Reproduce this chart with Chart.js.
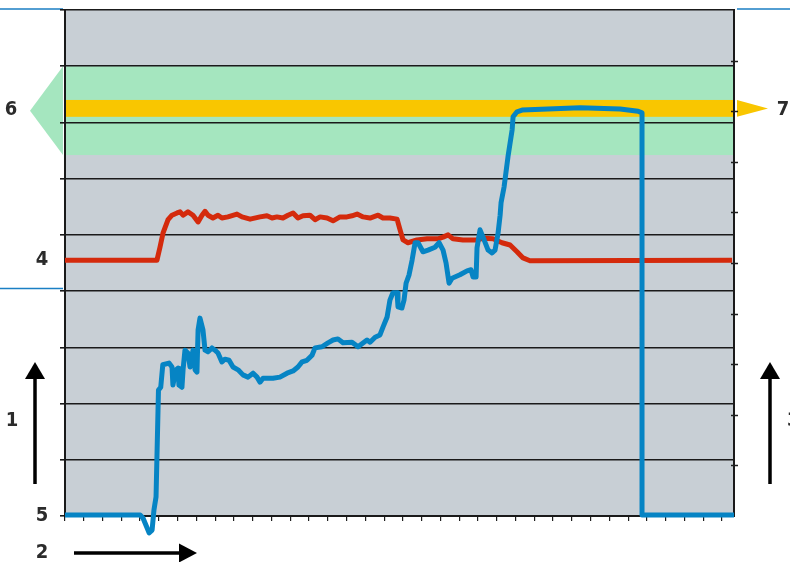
<!DOCTYPE html>
<html>
<head>
<meta charset="utf-8">
<script src="https://cdn.jsdelivr.net/npm/chart.js@4.4.0/dist/chart.umd.min.js"></script>
<style>
  html, body { margin: 0; padding: 0; background: #fff; }
  #wrap { width: 790px; height: 562px; }
</style>
</head>
<body>
<div id="wrap"><canvas id="chart" width="790" height="562"></canvas></div>
<script>
// x = time (one unit per bottom tick), y = left scale (one grid step = 10)
const xMax = 35.64;
const leftMax = 90;
const rightMax = 10;

const blueTime = [0, 4.0, 4.16, 4.37, 4.48, 4.64, 4.74, 4.85, 4.98, 5.10, 5.21, 5.54, 5.70, 5.75, 5.91, 6.02, 6.07, 6.23, 6.29, 6.39,
  6.55, 6.66, 6.82, 6.93, 7.03, 7.09, 7.19, 7.35, 7.46, 7.62, 7.83, 7.99, 8.15, 8.36, 8.52, 8.74, 8.95, 9.22, 9.48, 9.75,
  10.02, 10.23, 10.39, 10.55, 11.08, 11.45, 11.83, 12.15, 12.41, 12.63, 12.89, 13.16, 13.32, 13.69, 14.01, 14.28, 14.54, 14.81, 15.29, 15.61,
  16.09, 16.25, 16.52, 16.78, 16.94, 17.16, 17.31, 17.47, 17.69, 17.74, 17.95, 18.06, 18.17, 18.33, 18.49, 18.65, 18.81, 19.07, 19.34, 19.71,
  19.93, 20.14, 20.30, 20.46, 20.62, 21.04, 21.42, 21.63, 21.74, 21.90, 21.95, 22.11, 22.27, 22.54, 22.75, 22.91, 23.07, 23.18, 23.23, 23.39,
  23.60, 23.82, 23.87, 24.08, 24.35, 27.44, 29.57, 30.53, 30.74, 30.74, 35.64];
const blueLevel = [0.2, 0.2, -0.4, -2.1, -3.0, -2.5, 1.1, 3.4, 22.4, 22.9, 26.9, 27.2, 26.5, 23.3, 26.0, 26.3, 23.3, 22.9, 26.0, 29.5,
  29.0, 26.5, 29.5, 26.0, 25.6, 33.1, 35.2, 33.1, 29.5, 29.2, 29.9, 29.5, 29.0, 27.4, 27.9, 27.7, 26.5, 26.0, 25.1, 24.7,
  25.4, 24.7, 23.8, 24.5, 24.5, 24.7, 25.4, 25.8, 26.5, 27.4, 27.7, 28.6, 29.9, 30.1, 30.8, 31.3, 31.5, 30.8, 30.9, 30.1,
  31.3, 30.9, 31.8, 32.2, 33.6, 35.4, 38.4, 39.7, 39.7, 37.2, 37.0, 38.4, 41.4, 42.9, 45.5, 48.6, 48.6, 47.0, 47.3, 47.8,
  48.6, 47.3, 45.0, 41.4, 42.3, 42.9, 43.6, 43.8, 42.5, 42.5, 47.7, 50.9, 49.6, 47.3, 46.8, 47.3, 50.3, 53.5, 55.7, 58.5,
  63.9, 68.7, 71.0, 71.9, 72.2, 72.6, 72.4, 72.0, 71.7, 0.2, 0.2];

const redTime = [0, 4.90, 5.06, 5.22, 5.49, 5.70, 5.97, 6.13, 6.29, 6.55, 6.82, 7.09, 7.30, 7.46, 7.62, 7.88, 8.15, 8.36, 8.68, 9.16,
  9.43, 9.86, 10.39, 10.76, 11.03, 11.29, 11.61, 11.88, 12.15, 12.41, 12.68, 13.05, 13.32, 13.59, 13.96, 14.28, 14.65, 15.02, 15.29, 15.56,
  15.88, 16.25, 16.68, 16.94, 17.31, 17.69, 17.85, 18.01, 18.27, 18.75, 19.29, 19.87, 20.14, 20.41, 20.67, 21.20, 21.95, 22.27, 22.80, 23.28,
  23.71, 24.08, 24.40, 24.77, 35.54];
const redLevel = [45.5, 45.5, 47.8, 50.3, 52.7, 53.5, 53.9, 54.1, 53.5, 54.1, 53.5, 52.3, 53.5, 54.2, 53.5, 53.0, 53.5, 53.0, 53.2, 53.7,
  53.2, 52.8, 53.2, 53.4, 53.0, 53.2, 53.0, 53.5, 53.9, 53.0, 53.4, 53.5, 52.7, 53.2, 53.0, 52.5, 53.2, 53.2, 53.4, 53.7,
  53.2, 53.0, 53.5, 53.0, 53.0, 52.8, 50.9, 49.1, 48.6, 49.1, 49.3, 49.3, 49.6, 50.0, 49.3, 49.1, 49.1, 49.4, 49.3, 48.6,
  48.2, 47.0, 45.9, 45.4, 45.5];

const greenBand = [64.2, 80];   // tolerance window
const yellowBand = [71, 74];    // target level

const toPoints = (xs, ys) => xs.map((x, i) => ({ x: x, y: ys[i] }));

const LABEL_FONT = "bold 20px 'Liberation Sans Narrow', 'DejaVu Sans Condensed', sans-serif";

function drawArrow(ctx, x1, y1, x2, y2, headLen, headHalf) {
  const ang = Math.atan2(y2 - y1, x2 - x1);
  const bx = x2 - Math.cos(ang) * headLen, by = y2 - Math.sin(ang) * headLen;
  ctx.lineWidth = 3.5;
  ctx.beginPath();
  ctx.moveTo(x1, y1);
  ctx.lineTo(bx, by);
  ctx.stroke();
  ctx.beginPath();
  ctx.moveTo(x2, y2);
  ctx.lineTo(bx - Math.sin(ang) * headHalf, by + Math.cos(ang) * headHalf);
  ctx.lineTo(bx + Math.sin(ang) * headHalf, by - Math.cos(ang) * headHalf);
  ctx.closePath();
  ctx.fill();
}

const decor = {
  id: 'decor',
  beforeDraw(chart) {
    const { ctx, chartArea: a, scales: { y } } = chart;
    ctx.save();
    // page rules
    ctx.strokeStyle = '#1b7fc4';
    ctx.lineWidth = 1.5;
    ctx.beginPath();
    ctx.moveTo(0, a.top - 1); ctx.lineTo(a.left - 2, a.top - 1);
    ctx.moveTo(a.right + 3, a.top - 1); ctx.lineTo(chart.width, a.top - 1);
    ctx.moveTo(0, y.getPixelForValue(40) - 2.5); ctx.lineTo(a.left - 2, y.getPixelForValue(40) - 2.5);
    ctx.stroke();

    // plot background
    ctx.fillStyle = '#c8cfd5';
    ctx.fillRect(a.left, a.top, a.right - a.left, a.bottom - a.top);

    // green window + left pointer
    const gTop = y.getPixelForValue(greenBand[1]), gBot = y.getPixelForValue(greenBand[0]);
    ctx.fillStyle = '#a5e6bf';
    ctx.fillRect(a.left, gTop, a.right - a.left, gBot - gTop);
    ctx.beginPath();
    ctx.moveTo(a.left - 2, gTop);
    ctx.lineTo(a.left - 35, (gTop + gBot) / 2);
    ctx.lineTo(a.left - 2, gBot);
    ctx.closePath();
    ctx.fill();

    // yellow target + right pointer
    const yTop = y.getPixelForValue(yellowBand[1]), yBot = y.getPixelForValue(yellowBand[0]);
    ctx.fillStyle = '#f9c600';
    ctx.fillRect(a.left, yTop, a.right - a.left, yBot - yTop);
    ctx.beginPath();
    ctx.moveTo(a.right + 3, yTop);
    ctx.lineTo(a.right + 34, (yTop + yBot) / 2);
    ctx.lineTo(a.right + 3, yBot);
    ctx.closePath();
    ctx.fill();
    ctx.restore();
  },
  afterDraw(chart) {
    const { ctx, chartArea: a, scales: { y, y2 } } = chart;
    ctx.save();
    // right axis ticks crossing the border
    ctx.strokeStyle = '#1e1e1e';
    ctx.lineWidth = 1.5;
    y2.ticks.forEach(t => {
      if (t.value <= 0 || t.value >= rightMax) return;
      const py = Math.round(y2.getPixelForValue(t.value)) + 0.5;
      ctx.beginPath();
      ctx.moveTo(a.right - 3, py);
      ctx.lineTo(a.right + 4, py);
      ctx.stroke();
    });

    // arrows
    ctx.strokeStyle = '#000';
    ctx.fillStyle = '#000';
    drawArrow(ctx, a.left - 30, a.bottom - 32, a.left - 30, a.bottom - 154, 17, 10);
    drawArrow(ctx, a.right + 36, a.bottom - 32, a.right + 36, a.bottom - 154, 17, 10);
    drawArrow(ctx, a.left + 9, a.bottom + 37, a.left + 132, a.bottom + 37, 18, 9.5);

    // labels
    const midTarget = y.getPixelForValue((yellowBand[0] + yellowBand[1]) / 2);
    ctx.font = LABEL_FONT;
    ctx.fillStyle = '#2b2b2b';
    ctx.textAlign = 'center';
    ctx.textBaseline = 'middle';
    ctx.fillText('6', a.left - 54, midTarget + 1);
    ctx.fillText('4', a.left - 23, y.getPixelForValue(redLevel[0]));
    ctx.fillText('5', a.left - 23, y.getPixelForValue(0));
    ctx.fillText('1', a.left - 53, a.bottom - 95);
    ctx.fillText('2', a.left - 23, a.bottom + 37);
    ctx.fillText('7', a.right + 49, midTarget + 1);
    ctx.textAlign = 'left';
    ctx.fillText('3', a.right + 53, a.bottom - 95);
    ctx.restore();
  }
};

new Chart(document.getElementById('chart'), {
  type: 'line',
  data: {
    datasets: [
      {
        label: 'blue',
        data: toPoints(blueTime, blueLevel),
        borderColor: '#0684c4',
        borderWidth: 5,
        pointRadius: 0,
        tension: 0,
        borderJoinStyle: 'round',
        borderCapStyle: 'butt',
        clip: false,
        yAxisID: 'y'
      },
      {
        label: 'red',
        data: toPoints(redTime, redLevel),
        borderColor: '#d42a0c',
        borderWidth: 5,
        pointRadius: 0,
        tension: 0,
        borderJoinStyle: 'round',
        clip: false,
        yAxisID: 'y'
      }
    ]
  },
  options: {
    responsive: false,
    animation: false,
    devicePixelRatio: 1,
    layout: { padding: { left: 60, right: 56, top: 10, bottom: 41 } },
    plugins: { legend: { display: false }, tooltip: { enabled: false } },
    scales: {
      x: {
        type: 'linear',
        min: 0,
        max: xMax,
        ticks: { display: false, stepSize: 1, includeBounds: false },
        grid: { drawOnChartArea: false, drawTicks: true, tickLength: 5, color: '#1e1e1e', lineWidth: 1.2 },
        border: { color: '#1a1a1a', width: 2 }
      },
      y: {
        min: 0,
        max: leftMax,
        ticks: { display: false, stepSize: 10 },
        grid: { color: '#1a1a1a', lineWidth: 1.6, tickLength: 5 },
        border: { color: '#1a1a1a', width: 2 }
      },
      y2: {
        position: 'right',
        min: 0,
        max: rightMax,
        ticks: { display: false, stepSize: 1 },
        grid: { drawOnChartArea: false, drawTicks: false },
        border: { color: '#1a1a1a', width: 2 }
      }
    }
  },
  plugins: [decor]
});
</script>
</body>
</html>
